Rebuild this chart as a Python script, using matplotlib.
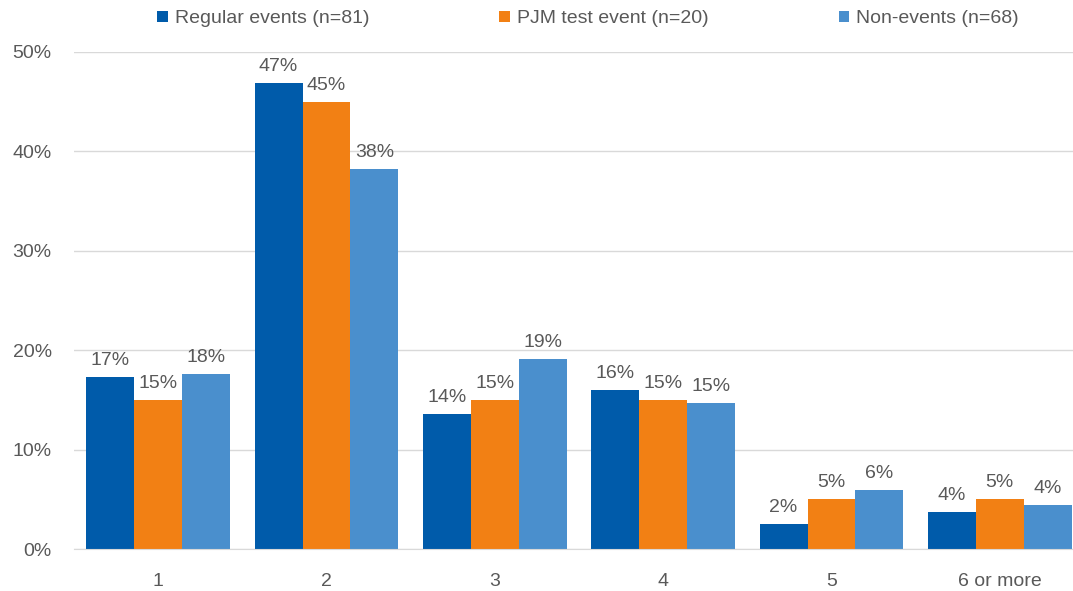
import numpy as np
import matplotlib.pyplot as plt
from matplotlib.ticker import FuncFormatter

categories = ['1', '2', '3', '4', '5', '6 or more']
regular = [17.3, 46.9, 13.6, 16.0, 2.5, 3.7]
pjm = [15.0, 45.0, 15.0, 15.0, 5.0, 5.0]
non_events = [17.6, 38.2, 19.1, 14.7, 5.9, 4.4]
series_names = ['Regular events (n=81)', 'PJM test event (n=20)', 'Non-events (n=68)']
colors = ['#005BAA', '#F28014', '#4A8FCD']

plt.rcParams['font.family'] = ['Liberation Sans', 'DejaVu Sans']
text_color = '#595959'

fig = plt.figure(figsize=(10.73, 5.91), dpi=100)
ax = fig.add_axes([74/1073, 1-549/591, 1010/1073, (549-52)/591])

x = np.arange(len(categories))
w = 0.285
for k, (vals, name, c) in enumerate(zip([regular, pjm, non_events], series_names, colors)):
    pos = x + (k - 1) * w
    ax.bar(pos, vals, width=w, color=c, label=name, zorder=2)
    for px, v in zip(pos, vals):
        ax.text(px, v + 0.8, f'{v:.0f}%', ha='center', va='bottom', fontsize=14, color=text_color)

ax.set_xlim(-0.5, len(categories) - 0.5)
ax.set_ylim(0, 50)
ax.set_yticks(range(0, 51, 10))
ax.yaxis.set_major_formatter(FuncFormatter(lambda v, p: f'{v:.0f}%'))
ax.set_xticks(x)
ax.set_xticklabels(categories)
ax.tick_params(axis='both', length=0, labelsize=14, colors=text_color)
ax.tick_params(axis='x', pad=17)
ax.tick_params(axis='y', pad=16)
ax.grid(axis='y', color='#D9D9D9', linewidth=1, zorder=0)
for s in ['top', 'right', 'left']:
    ax.spines[s].set_visible(False)
ax.spines['bottom'].set_color('#D9D9D9')

leg = fig.legend(loc='upper center', bbox_to_anchor=(0.548, 1.012), ncol=3, frameon=False,
                 fontsize=14, handlelength=0.55, handleheight=0.55, handletextpad=0.35, columnspacing=6.7)
for t in leg.get_texts():
    t.set_color(text_color)

fig.savefig('out.png', dpi=100)
